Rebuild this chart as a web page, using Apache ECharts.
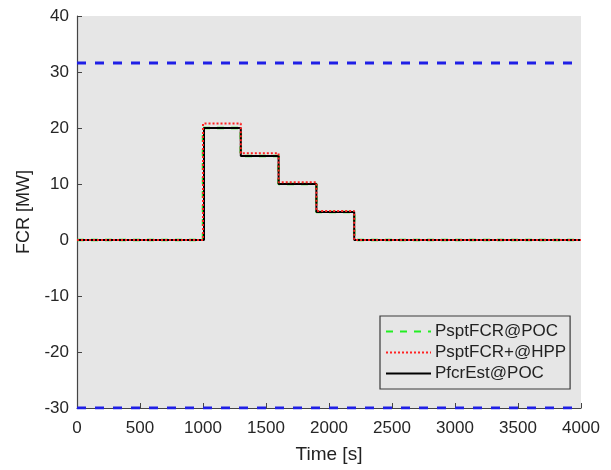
<!DOCTYPE html>
<html>
<head>
<meta charset="utf-8">
<title>FCR response</title>
<script src="https://cdn.jsdelivr.net/npm/echarts@6/dist/echarts.min.js"></script>
<style>
  html, body { margin: 0; padding: 0; background: #ffffff; }
  #chart { width: 611px; height: 470px; }
</style>
</head>
<body>
<div id="chart"></div>
<script>
// Step change times [s]; each level holds from its time until the next one
var stepTimes = [0, 1000, 1300, 1600, 1900, 2200, 4000];
var estStepTimes = [0, 1008, 1300, 1600, 1900, 2200, 4000];

// FCR setpoint at point of connection [MW]
var psptPoc = [0, 20, 15, 10, 5, 0, 0];
// FCR setpoint incl. losses at the hybrid power plant [MW]
var psptHpp = [0, 20.8, 15.5, 10.3, 5.2, 0, 0];
// Estimated FCR delivered at point of connection [MW]
var pfcrEst = [0, 20, 15, 10, 5, 0, 0];

// Upper and lower FCR capacity limits [MW]
var upperLimit = 31.6;
var lowerLimit = -30;

var xTicks = { min: 0, max: 4000, interval: 500 };
var yTicks = { min: -30, max: 40, interval: 10 };

function pairs(times, values) {
  return times.map(function (t, i) { return [t, values[i]]; });
}

var font = 'Liberation Sans, Arial, sans-serif';
var chart = echarts.init(document.getElementById('chart'), null, { renderer: 'canvas' });

chart.setOption({
  animation: false,
  backgroundColor: '#ffffff',
  grid: {
    left: 77, right: 30, top: 16, bottom: 62,
    show: true, backgroundColor: '#e6e6e6', borderWidth: 0
  },
  xAxis: {
    type: 'value',
    min: xTicks.min, max: xTicks.max, interval: xTicks.interval,
    name: 'Time [s]',
    nameLocation: 'middle',
    nameGap: 37,
    nameTextStyle: { fontFamily: font, fontSize: 19, color: '#222' },
    axisLine: { show: true, onZero: false, lineStyle: { color: '#444', width: 1.2 } },
    axisTick: { show: true, inside: true, length: 5, lineStyle: { color: '#444' } },
    axisLabel: {
      fontFamily: font, fontSize: 17, color: '#262626', margin: 12,
      formatter: function (v) { return String(v); }
    },
    splitLine: { show: false }
  },
  yAxis: {
    type: 'value',
    min: yTicks.min, max: yTicks.max, interval: yTicks.interval,
    name: 'FCR [MW]',
    nameLocation: 'middle',
    nameGap: 43,
    nameTextStyle: { fontFamily: font, fontSize: 18, color: '#222' },
    axisLine: { show: true, onZero: false, lineStyle: { color: '#444', width: 1.2 } },
    axisTick: { show: true, inside: true, length: 5, lineStyle: { color: '#444' } },
    axisLabel: { fontFamily: font, fontSize: 17, color: '#262626', margin: 8 },
    splitLine: { show: false }
  },
  legend: {
    data: ['PsptFCR@POC', 'PsptFCR+@HPP', 'PfcrEst@POC'],
    orient: 'vertical',
    left: 380, top: 316,
    padding: [7, 4, 7, 5],
    itemWidth: 45, itemHeight: 14, itemGap: 4,
    backgroundColor: '#e6e6e6',
    borderColor: '#3a3a3a', borderWidth: 1.2,
    itemStyle: { opacity: 0 },
    textStyle: { fontFamily: font, fontSize: 17, color: '#222', padding: [0, 0, 0, -1] }
  },
  series: [
    {
      name: 'PsptFCR@POC', type: 'line', step: 'end',
      data: pairs(stepTimes, psptPoc),
      symbol: 'none', z: 2,
      lineStyle: { color: '#22ee22', width: 2.5, type: [7, 7] },
      itemStyle: { color: '#22ee22' }
    },
    {
      name: 'PsptFCR+@HPP', type: 'line', step: 'end',
      data: pairs(stepTimes, psptHpp),
      symbol: 'none', z: 4,
      lineStyle: { color: '#ff2222', width: 2, type: [2, 2] },
      itemStyle: { color: '#ff2222' }
    },
    {
      name: 'PfcrEst@POC', type: 'line', step: 'end',
      data: pairs(estStepTimes, pfcrEst),
      symbol: 'none', z: 3,
      lineStyle: { color: '#000000', width: 2 },
      itemStyle: { color: '#000000' }
    },
    {
      name: 'Upper limit', type: 'line',
      data: [[xTicks.min, upperLimit], [xTicks.max, upperLimit]],
      symbol: 'none', z: 5,
      lineStyle: { color: '#1f1fe6', width: 3, type: [9, 9] }
    },
    {
      name: 'Lower limit', type: 'line',
      data: [[xTicks.min, lowerLimit], [xTicks.max, lowerLimit]],
      symbol: 'none', z: 5,
      lineStyle: { color: '#1f1fe6', width: 3, type: [9, 9] }
    }
  ]
});
</script>
</body>
</html>
